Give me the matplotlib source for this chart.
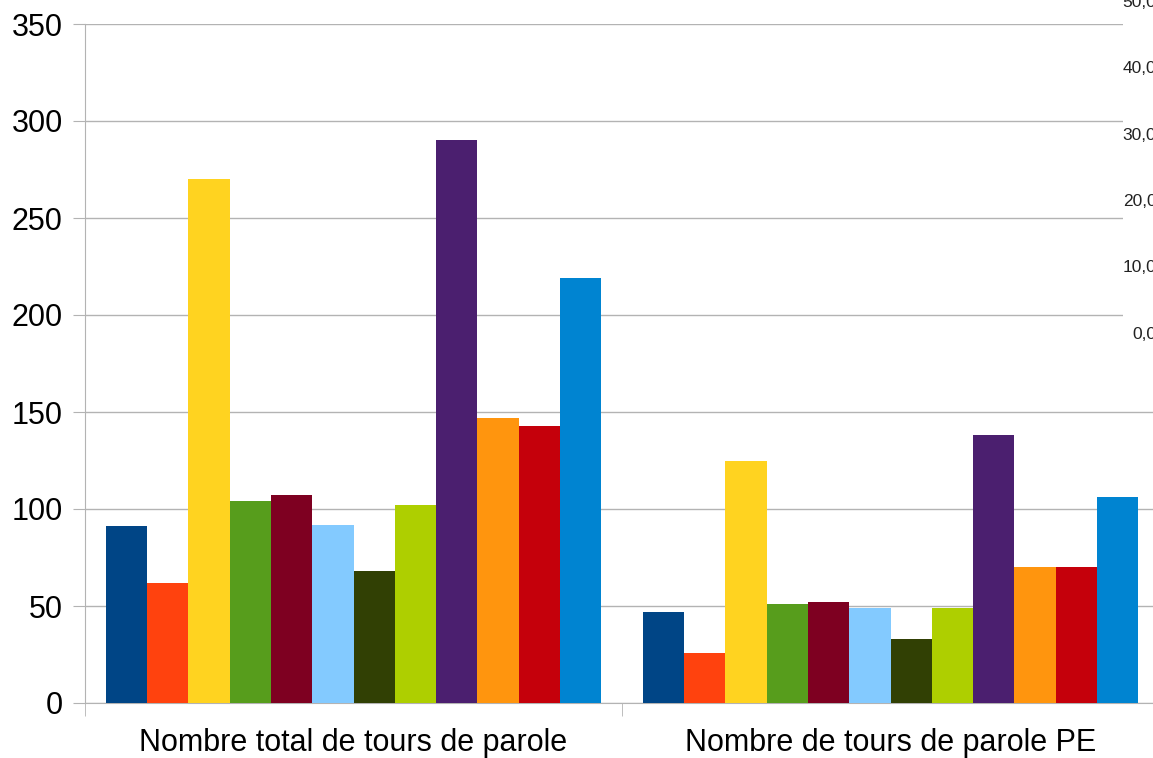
import numpy as np
import matplotlib
matplotlib.use("Agg")
import matplotlib.pyplot as plt
from matplotlib.patches import Rectangle

plt.rcParams["font.family"] = ["Liberation Sans", "DejaVu Sans"]

categories = ["Nombre total de tours de parole", "Nombre de tours de parole PE"]
series_colors = ["#004586", "#ff420e", "#ffd320", "#579d1c", "#7e0021", "#83caff",
                 "#314004", "#aecf00", "#4b1f6f", "#ff950e", "#c5000b", "#0084d1"]
total_tours = [91, 62, 270, 104, 107, 92, 68, 102, 290, 147, 143, 219]
tours_pe = [47, 26, 125, 51, 52, 49, 33, 49, 138, 70, 70, 106]
y_ticks = [0, 50, 100, 150, 200, 250, 300, 350]
right_ticks = [0, 10, 20, 30, 40, 50]

W, H = 1153, 758
fig = plt.figure(figsize=(W / 100, H / 100), dpi=100)
ax = fig.add_axes([85 / W, 55 / H, 1074 / W, 679 / H])

n = len(series_colors)
bw = 1 / (n + 1)
x = np.arange(len(categories))
for i, c in enumerate(series_colors):
    vals = [total_tours[i], tours_pe[i]]
    ax.bar(x + (i - (n - 1) / 2) * bw, vals, width=bw, color=c, zorder=3)

ax.set_xlim(-0.5, 1.5)
ax.set_ylim(0, 350)
ax.set_yticks(y_ticks)
ax.set_xticks(x)
ax.set_xticklabels(categories)
ax.set_xticks([-0.5, 0.5, 1.5], minor=True)
ax.yaxis.grid(True, color="#b3b3b3", lw=1, zorder=0)
for s in ["top", "right"]:
    ax.spines[s].set_visible(False)
for s in ["left", "bottom"]:
    ax.spines[s].set_color("#b3b3b3")
ax.tick_params(axis="y", length=9, color="#b3b3b3", labelsize=22, pad=7)
ax.tick_params(axis="x", which="major", length=0, labelsize=22, pad=18)
ax.tick_params(axis="x", which="minor", length=9, color="#b3b3b3")

# clipped secondary chart at the top right
fig.patches.append(Rectangle((1123 / W, 1 - 350 / H), 40 / W, 350 / H,
                             transform=fig.transFigure, facecolor="white",
                             edgecolor="none", zorder=5))
ax2 = fig.add_axes([1123 / W, 1 - 350 / H, 0.0001, 350 / H], frameon=False, zorder=6)
ax2.set_ylim(-2.56, 50.08)
ax2.set_xticks([])
ax2.set_yticks(right_ticks)
ax2.set_yticklabels([f"{v},0" for v in right_ticks])
ax2.yaxis.tick_right()
ax2.tick_params(axis="y", length=0, labelsize=12.5, pad=24, labelcolor="#222222")
for lab in ax2.get_yticklabels():
    lab.set_ha("right")

fig.savefig("out.png", dpi=100)
